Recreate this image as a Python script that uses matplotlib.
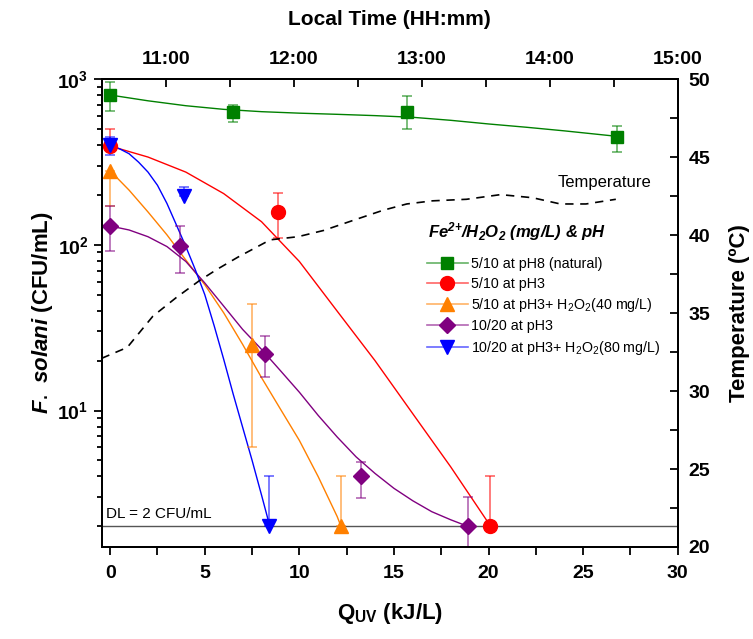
import matplotlib
matplotlib.use("Agg")
import matplotlib.pyplot as plt
from matplotlib.colors import to_rgba
from matplotlib.ticker import MultipleLocator, FixedLocator

plt.rcParams['font.family'] = ['Liberation Sans', 'DejaVu Sans']
plt.rcParams['mathtext.default'] = 'regular'
plt.rcParams['mathtext.fontset'] = 'custom'
plt.rcParams['mathtext.it'] = 'Liberation Sans:italic:bold'

# measured points: Q_UV (kJ/L), F. solani (CFU/mL), error bar limits
green_q = [0, 6.5, 15.7, 26.8]
green_y = [800, 630, 630, 450]
green_lo = [640, 550, 500, 365]
green_hi = [960, 695, 790, 525]

red_q = [0, 8.85, 20.1]
red_y = [395, 158, 2]
red_lo = [395, 110, 2]
red_hi = [500, 205, 4]

orange_q = [0, 7.5, 12.2]
orange_y = [280, 25, 2]
orange_lo = [172, 6, 2]
orange_hi = [280, 44, 4]

purple_q = [0, 3.7, 8.2, 13.25, 18.9]
purple_y = [130, 99, 22, 4, 2]
purple_lo = [92, 68, 16, 2.95, 1.5]
purple_hi = [172, 130, 28, 4.9, 3]

blue_q = [0, 3.9, 8.4]
blue_y = [400, 196, 2]
blue_lo = [350, 196, 2]
blue_hi = [445, 225, 4]

# fitted curves
green_fit_q = [0, 2, 4, 6, 8, 10, 12, 14, 16, 18, 20, 22, 24, 26.8]
green_fit_y = [803, 741, 692, 658, 637, 624, 614, 603, 589, 565, 537, 513, 488, 452]
red_fit_q = [0, 2, 4, 6, 8, 10, 12, 14, 16, 18, 20, 20.1]
red_fit_y = [395, 339, 275, 204, 138, 79.4, 39.8, 20, 9.55, 4.57, 2.09, 2]
orange_fit_q = [0, 1, 2, 3, 4, 5, 6, 7, 8, 9, 10, 11, 12, 12.2]
orange_fit_y = [280, 214, 158, 115, 81, 57.5, 38.9, 25.1, 15.8, 10.2, 6.6, 3.98, 2.29, 2]
purple_fit_q = [0, 1, 2, 3, 4, 5, 6, 7, 8, 9, 10, 11, 12, 13, 14, 15, 16, 17, 18, 18.9]
purple_fit_y = [130, 123, 112, 97.7, 79.4, 58.9, 42.7, 30.9, 23.4, 17.4, 12.9, 9.33,
                6.92, 5.25, 4.17, 3.39, 2.85, 2.45, 2.19, 2]
blue_fit_q = [0, 0.5, 1, 1.5, 2, 2.5, 3, 3.5, 4, 4.5, 5, 5.5, 6, 6.5, 7, 7.5, 8, 8.44]
blue_fit_y = [400, 380, 355, 316, 275, 229, 178, 132, 97.7, 70.8, 50.1, 32.4, 20.4,
              12.6, 7.94, 5.01, 3.09, 2]

# temperature vs local time
temp_time = ["10:30", "10:42", "10:54", "11:05", "11:16", "11:24", "11:34", "11:49",
             "12:02", "12:14", "12:29", "12:42", "12:53", "13:05", "13:21", "13:37",
             "13:52", "14:05", "14:17", "14:31"]
temp_c = [32.1, 32.8, 34.8, 36.0, 37.1, 37.8, 38.6, 39.7, 39.9, 40.3, 41.0, 41.6,
          42.0, 42.2, 42.3, 42.6, 42.4, 42.0, 42.0, 42.3]

time_ticks = ["11:00", "12:00", "13:00", "14:00", "15:00"]
detection_limit = 2


def hours(s):
    h, m = s.split(":")
    return int(h) + int(m) / 60


fig = plt.figure(figsize=(7.53, 6.39), dpi=100)
ax = fig.add_axes([0.135, 0.144, 0.765, 0.732])

series = [
    (green_q, green_y, green_lo, green_hi, green_fit_q, green_fit_y, '#008000', 's', 9,
     "5/10 at pH8 (natural)"),
    (red_q, red_y, red_lo, red_hi, red_fit_q, red_fit_y, '#ff0000', 'o', 10,
     "5/10 at pH3"),
    (orange_q, orange_y, orange_lo, orange_hi, orange_fit_q, orange_fit_y, '#ff8000', '^', 10.5,
     "5/10 at pH3+ H$_2$O$_2$(40 mg/L)"),
    (purple_q, purple_y, purple_lo, purple_hi, purple_fit_q, purple_fit_y, '#800080', 'D', 8.5,
     "10/20 at pH3"),
    (blue_q, blue_y, blue_lo, blue_hi, blue_fit_q, blue_fit_y, '#0000ff', 'v', 10.5,
     "10/20 at pH3+ H$_2$O$_2$(80 mg/L)"),
]

handles = []
for q, y, lo, hi, fq, fy, c, m, ms, lab in series:
    err = [[a - b for a, b in zip(y, lo)], [b - a for a, b in zip(y, hi)]]
    ax.errorbar(q, y, yerr=err, fmt='none', ecolor=c, alpha=0.6, elinewidth=1.2,
                capsize=3.5, capthick=1.2, zorder=3)
    ax.plot(fq, fy, color=c, lw=1, zorder=2)
    ax.plot(q, y, ls='none', marker=m, ms=ms, color=c, mec=c, zorder=4, clip_on=False)
    h, = ax.plot([], [], color=to_rgba(c, 0.6), lw=1.2, marker=m, ms=ms, mfc=c, mec=c)
    handles.append((h, lab))

ax.axhline(detection_limit, color='#555555', lw=1, zorder=1)
ax.text(-0.2, 2.25, "DL = 2 CFU/mL", fontsize=11)

ax.set_yscale('log')
ax.set_ylim(1.5, 1000)
ax.set_xlim(-0.45, 30)
ax.xaxis.set_major_locator(MultipleLocator(5))
ax.xaxis.set_minor_locator(MultipleLocator(2.5))
ax.tick_params(axis='both', which='both', direction='out', top=False, right=False,
               labelsize=14, width=1.3)
ax.tick_params(axis='x', which='both', length=6, pad=7)
ax.tick_params(axis='y', which='major', length=6)
ax.tick_params(axis='y', which='minor', length=3.5)
for lbl in ax.get_xticklabels() + ax.get_yticklabels():
    lbl.set_fontweight('bold')
for sp in ax.spines.values():
    sp.set_linewidth(1.3)

ax.set_xlabel("Q$_{UV}$ (kJ/L)", fontsize=16, fontweight='bold', labelpad=14)
ax.set_ylabel(r"$\it{F.\ solani}$ (CFU/mL)", fontsize=16, fontweight='bold', labelpad=2)

ax.text(16.8, 120, "Fe$^{2{+}}$/H$_2$O$_2$ (mg/L) & pH", fontsize=12,
        fontweight='bold', fontstyle='italic', va='center', ha='left')
ax.legend([h for h, _ in handles], [l for _, l in handles],
          loc='upper left', bbox_to_anchor=(0.554, 0.632), frameon=False,
          fontsize=10.3, handlelength=2.9, handletextpad=0.2, labelspacing=0.38,
          borderaxespad=0)

# top axis: local time
ax_top = ax.twiny()
ax_top.set_xlim(10.5, 15.0)
ax_top.xaxis.set_major_locator(FixedLocator([hours(t) for t in time_ticks]))
ax_top.set_xticklabels(time_ticks, fontsize=14, fontweight='bold')
ax_top.xaxis.set_minor_locator(MultipleLocator(0.5))
ax_top.tick_params(axis='x', which='both', direction='in', length=6, width=1.3, pad=8)
ax_top.set_xlabel("Local Time (HH:mm)", fontsize=15, fontweight='bold', labelpad=19)

# right axis: temperature
ax_t = ax_top.twinx()
ax_t.set_ylim(20, 50)
ax_t.yaxis.set_major_locator(MultipleLocator(5))
ax_t.yaxis.set_minor_locator(MultipleLocator(2.5))
ax_t.tick_params(axis='y', which='both', direction='in', length=6, width=1.3,
                 labelsize=14, pad=8)
for lbl in ax_t.get_yticklabels():
    lbl.set_fontweight('bold')
ax_t.plot([hours(t) for t in temp_time], temp_c, color='black', lw=1.2, ls=(0, (5, 4)))
ax_t.text(14.06, 43.4, "Temperature", fontsize=12, va='center')
ax_t.set_ylabel("Temperature (ºC)", fontsize=16, fontweight='bold', labelpad=13)
for a in (ax_top, ax_t):
    for sp in a.spines.values():
        sp.set_linewidth(1.3)

fig.savefig("out.png", dpi=100)
